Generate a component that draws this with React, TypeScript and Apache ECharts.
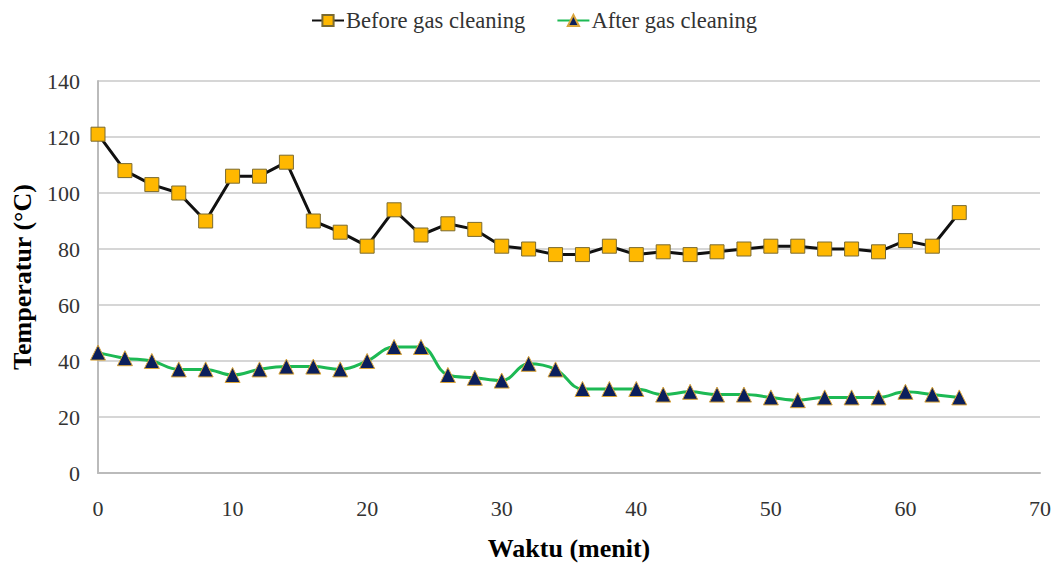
import React, { useEffect, useRef } from "react";
import * as echarts from "echarts";

const times = [0, 2, 4, 6, 8, 10, 12, 14, 16, 18, 20, 22, 24, 26, 28, 30, 32, 34, 36, 38, 40, 42, 44, 46, 48, 50, 52, 54, 56, 58, 60, 62, 64];
const beforeCleaning = [121, 108, 103, 100, 90, 106, 106, 111, 90, 86, 81, 94, 85, 89, 87, 81, 80, 78, 78, 81, 78, 79, 78, 79, 80, 81, 81, 80, 80, 79, 83, 81, 93];
const afterCleaning = [43, 41, 40, 37, 37, 35, 37, 38, 38, 37, 40, 45, 45, 35, 34, 33, 39, 37, 30, 30, 30, 28, 29, 28, 28, 27, 26, 27, 27, 27, 29, 28, 27];

const FONT = "'Liberation Serif', 'Times New Roman', serif";

export default function App() {
  const ref = useRef<HTMLDivElement>(null);
  useEffect(() => {
    if (!ref.current) return;
    const chart = echarts.init(ref.current, null, { renderer: "svg" });
    chart.setOption({
      animation: false,
      textStyle: { fontFamily: FONT },
      legend: {
        top: 4,
        left: 306,
        itemWidth: 32,
        itemHeight: 14,
        itemGap: 31,
        textStyle: { fontFamily: FONT, fontSize: 22.6, color: "#333", padding: [0, 0, 0, -3] },
        data: ["Before gas cleaning", "After gas cleaning"],
      },
      grid: { left: 98, right: 12, top: 81, bottom: 90, containLabel: false, outerBoundsMode: "none" },
      xAxis: {
        type: "value",
        min: 0,
        max: 70,
        interval: 10,
        name: "Waktu (menit)",
        nameLocation: "middle",
        nameGap: 62,
        nameTextStyle: { fontFamily: FONT, fontSize: 26, fontWeight: "bold", color: "#000" },
        axisLine: { lineStyle: { color: "#bbb", width: 2 } },
        axisTick: { show: false },
        axisLabel: { fontFamily: FONT, fontSize: 22, color: "#333", margin: 24 },
        splitLine: { show: false },
      },
      yAxis: {
        type: "value",
        min: 0,
        max: 140,
        interval: 20,
        name: "Temperatur (°C)",
        nameLocation: "middle",
        nameGap: 63,
        nameTextStyle: { fontFamily: FONT, fontSize: 26, fontWeight: "bold", color: "#000" },
        axisLine: { show: true, lineStyle: { color: "#bbb", width: 2 } },
        axisTick: { show: false },
        axisLabel: { fontFamily: FONT, fontSize: 22, color: "#333", margin: 18 },
        splitLine: { lineStyle: { color: "#c8c8c8", width: 1.5 } },
      },
      series: [
        {
          name: "Before gas cleaning",
          type: "line",
          data: times.map((t, i) => [t, beforeCleaning[i]]),
          symbol: "rect",
          symbolSize: 14,
          lineStyle: { color: "#111", width: 3 },
          itemStyle: { color: "#FFB800", borderColor: "#7a6a30", borderWidth: 1 },
        },
        {
          name: "After gas cleaning",
          type: "line",
          smooth: 0.4,
          data: times.map((t, i) => [t, afterCleaning[i]]),
          symbol: "triangle",
          symbolSize: 15,
          lineStyle: { color: "#1DB954", width: 3 },
          itemStyle: { color: "#0B1F5C", borderColor: "#D9A43A", borderWidth: 1 },
        },
      ],
    });
    return () => chart.dispose();
  }, []);
  return (
    <div
      ref={ref}
      style={{ position: "fixed", left: 0, top: 0, width: 1052, height: 563, background: "#fff" }}
    />
  );
}
